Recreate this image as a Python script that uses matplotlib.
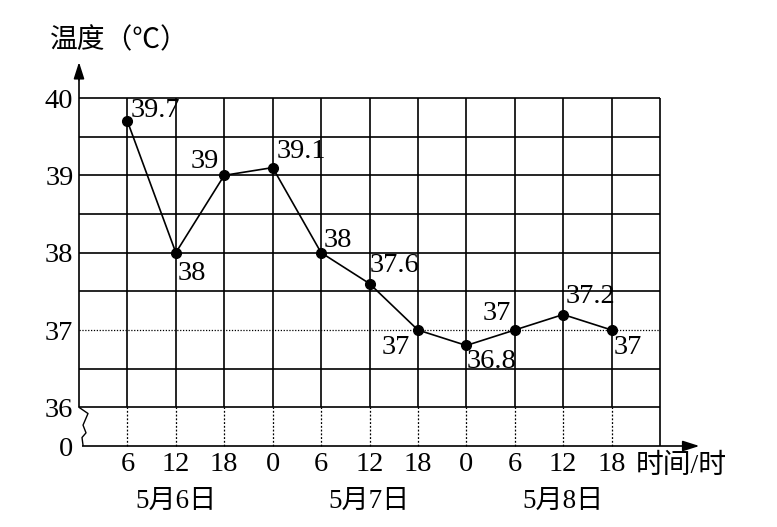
import matplotlib
matplotlib.use("Agg")
import matplotlib.pyplot as plt

# fonts: serif digits, CJK fallback for the Chinese text
plt.rcParams['font.family'] = ['Liberation Serif', 'Noto Sans CJK SC']

# data
hours = ['6', '12', '18', '0', '6', '12', '18', '0', '6', '12', '18']
temps = [39.7, 38, 39, 39.1, 38, 37.6, 37, 36.8, 37, 37.2, 37]
dates = ['5月6日', '5月7日', '5月8日']
date_slots = [2, 6, 10]          # which hour tick each date sits under
y_ticks = [36, 37, 38, 39, 40]
y_zero = 35.5                    # where the broken axis shows "0"

# label placement for each point: pixel offset and alignment
label_pos = [(3, 11, 'left'), (2, -21, 'left'), (-5, 14, 'right'),
             (4, 16, 'left'), (3, 12, 'left'), (0, 18, 'left'),
             (-8, -17, 'right'), (0, -16, 'left'), (-4, 16, 'right'),
             (2, 18, 'left'), (2, -18, 'left')]

W, H = 777, 527
fig = plt.figure(figsize=(W / 100, H / 100), dpi=100)
ax = fig.add_axes([79 / W, (H - 446) / H, (660 - 79) / W, (446 - 98) / H])
ax.set_xlim(0, 12)
ax.set_ylim(y_zero, 40)
for s in ax.spines.values():
    s.set_visible(False)

xs = list(range(1, len(hours) + 1))

# grid: every half degree between 36 and 40, 37 drawn dotted
gl = dict(color='black', lw=1.2, clip_on=False)
for k in range(9):
    yv = 36 + 0.5 * k
    if yv == 37:
        ax.hlines(yv, 0, 12, color='black', lw=0.9, linestyles=(0, (1, 1.3)), clip_on=False)
    else:
        ax.hlines(yv, 0, 12, **gl)
for xv in xs:
    ax.vlines(xv, 36, 40, **gl)
    ax.vlines(xv, y_zero, 36, color='black', lw=0.9, linestyles=(0, (1.5, 1.5)), clip_on=False)
ax.vlines(12, y_zero, 40, **gl)

# y axis with arrow and the break mark
ax.vlines(0, 36, 40.3, **gl)
ax.annotate('', xy=(0, 40.5), xytext=(0, 40.2),
            arrowprops=dict(arrowstyle='-|>,head_length=1.0,head_width=0.32', color='black', lw=1.2),
            annotation_clip=False)
brk_x = [0, 0.186, 0.083, 0.145, 0.062, 0.083]
brk_y = [36.0, 35.92, 35.77, 35.67, 35.61, 35.51]
ax.plot(brk_x, brk_y, color='black', lw=1.0, clip_on=False)

# x axis with arrow
ax.hlines(y_zero, 0.07, 12.6, **gl)
ax.annotate('', xy=(12.87, y_zero), xytext=(12.5, y_zero),
            arrowprops=dict(arrowstyle='-|>,head_length=1.0,head_width=0.32', color='black', lw=1.2),
            annotation_clip=False)

# the temperature line
ax.plot(xs, temps, color='black', lw=1.2, marker='o', markersize=7, clip_on=False, zorder=5)
for xv, t, (dx, dy, ha) in zip(xs, temps, label_pos):
    ax.annotate(f'{t:g}', (xv, t), xytext=(dx, dy), textcoords='offset pixels',
                ha=ha, va='center', fontsize=20.5)

# ticks
ax.set_xticks(xs)
ax.set_xticklabels(hours, fontsize=20.5)
ax.set_yticks([y_zero] + y_ticks)
ax.set_yticklabels(['0'] + [str(v) for v in y_ticks], fontsize=20.5)
ax.tick_params(length=0, pad=4)
ax.tick_params(axis='y', pad=4)

# dates under the hour ticks
for d, slot in zip(dates, date_slots):
    ax.text(slot, -0.16, d, transform=ax.get_xaxis_transform(),
            ha='center', va='center', fontsize=19.5)

# axis titles
ax.text(11.5, -0.058, '时间/时', transform=ax.get_xaxis_transform(),
        ha='left', va='center', fontsize=20)
ax.text(-0.6, 40.73, '温度（℃）', ha='left', va='center', fontsize=20)

fig.savefig('out.png', dpi=100)
